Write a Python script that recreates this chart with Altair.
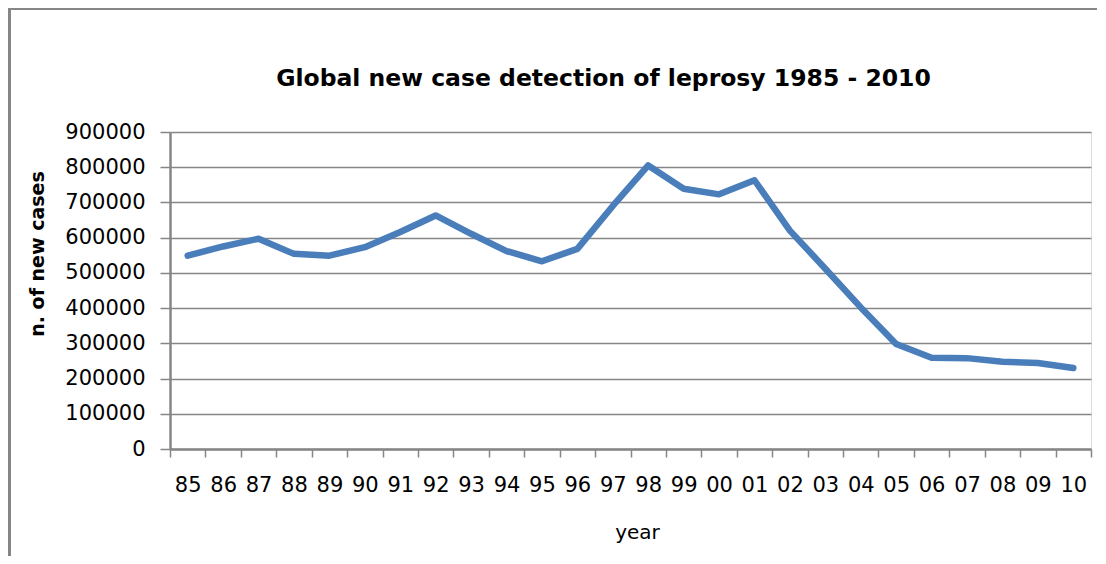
import altair as alt
import pandas as pd

years = ["85", "86", "87", "88", "89", "90", "91", "92", "93", "94", "95", "96", "97",
         "98", "99", "00", "01", "02", "03", "04", "05", "06", "07", "08", "09", "10"]
cases = [549000, 575000, 597000, 554000, 549000, 573000, 616000, 663000, 611000,
         562000, 533000, 568000, 690000, 805000, 739000, 723000, 763000, 620000,
         512000, 402000, 298000, 259000, 258000, 248000, 244000, 230000]
y_ticks = [0, 100000, 200000, 300000, 400000, 500000, 600000, 700000, 800000, 900000]

df = pd.DataFrame({"year": years, "cases": cases})
one = pd.DataFrame({"k": [0]})

W, H = 921, 317
FONT = "DejaVu Sans"
GRAY = "#868686"

line = alt.Chart(df).mark_line(
    color="#4A7EBB", strokeWidth=6.5, strokeJoin="round", strokeCap="round"
).encode(
    x=alt.X(
        "year:O", sort=years, bandPosition=0.5,
        scale=alt.Scale(type="band", paddingInner=0, paddingOuter=0),
        axis=alt.Axis(
            title="year", labelAngle=0, tickBand="extent", ticks=True, tickSize=8,
            tickColor=GRAY, tickWidth=1.5, domainColor=GRAY, domainWidth=2.5,
            labelFont=FONT, labelFontSize=21, labelColor="black",
            labelBaseline="alphabetic", labelPadding=34, grid=False,
            titleFont=FONT, titleFontSize=20, titleFontWeight="normal",
            titleColor="black", titleX=467, titleY=89, titleBaseline="alphabetic",
        ),
    ),
    y=alt.Y(
        "cases:Q",
        scale=alt.Scale(domain=[0, 900000], nice=False),
        axis=alt.Axis(
            values=y_ticks, format="d", title="n. of new cases",
            grid=True, gridColor=GRAY, gridWidth=1.5,
            domainColor=GRAY, domainWidth=2.5, tickColor=GRAY, tickWidth=1.5,
            tickSize=10, labelPadding=15, labelFont=FONT, labelFontSize=21,
            labelColor="black",
            titleFont=FONT, titleFontSize=19, titleFontWeight="bold",
            titleColor="black", titleAngle=-90, titleX=-127, titleY=121.5,
            titleAlign="center", titleBaseline="alphabetic",
        ),
    ),
)

border_left = alt.Chart(one).mark_rule(color=GRAY, strokeWidth=3, clip=False).encode(
    x=alt.value(-160.5), y=alt.value(-124), y2=alt.value(H + 120)
)
border_top = alt.Chart(one).mark_rule(color=GRAY, strokeWidth=2, clip=False).encode(
    x=alt.value(-162), x2=alt.value(W + 20), y=alt.value(-123)
)

chart = alt.layer(border_left, border_top, line).properties(
    width=W, height=H,
    title=alt.TitleParams(
        text="Global new case detection of leprosy 1985 - 2010",
        font=FONT, fontSize=23.5, fontWeight="bold", color="black",
        anchor="middle", dx=-27, offset=-103, baseline="alphabetic",
    ),
    autosize=alt.AutoSizeParams(type="none"),
    padding={"left": 162, "top": 124, "right": 6, "bottom": 107},
).configure_view(
    fill="#E6E6E6", stroke=None
).configure(background="white")

chart.save("out.html", embed_options={"renderer": "svg", "actions": False})
